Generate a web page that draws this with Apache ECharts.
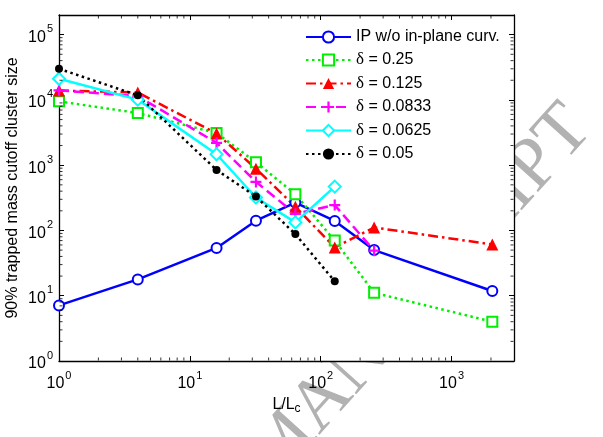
<!DOCTYPE html>
<html>
<head>
<meta charset="utf-8">
<script src="https://cdn.jsdelivr.net/npm/echarts@6/dist/echarts.min.js"></script>
<style>
html, body {margin: 0; padding: 0; background: #fff;}
#chart {width: 603px; height: 437px;}
</style>
</head>
<body>
<div id="chart"></div>
<script>
// L/Lc values (same for every curve)
var xVals = [1, 4, 16, 32, 64, 128, 256, 2048];
// 90% trapped mass cutoff cluster size
var ipCurv = [7.1, 17.8, 54, 141, 268, 140, 50, 11.8];
var d025 = [9500, 6300, 3100, 1110, 360, 70, 11.1, 4.0];
var d0125 = [13900, 13000, 3060, 885, 231, 55, 111, 61];
var d00833 = [14000, 11400, 2200, 555, 180, 245, 49];
var d00625 = [21100, 10100, 1470, 320, 133, 470];
var d005 = [30000, 11750, 845, 331, 88, 16.6];
var seriesNames = ['IP w/o in-plane curv.', 'δ = 0.25', 'δ = 0.125', 'δ = 0.0833', 'δ = 0.0625', 'δ = 0.05'];
var xMin = 1, xMax = 3000, yMin = 1, yMax = 200000;

var font = 'Liberation Sans, Arial, sans-serif';

// pair x with y
function pairs(ys) {
	var out = [];
	for (var i = 0; i < ys.length; i++) {
		out.push([xVals[i], ys[i]]);
	}
	return out;
}

// 2..9 x 10^k between lo and hi
function minorTicks(lo, hi) {
	var arr = [];
	for (var p = lo; p < hi; p *= 10) {
		for (var m = 2; m < 10; m++) {
			if (m * p < hi) arr.push(m * p);
		}
	}
	return arr;
}

// "10" with exponent, only on decades
function powLabel(v) {
	var e = Math.log(v) / Math.LN10;
	var r = Math.round(e);
	if (Math.abs(e - r) > 1e-6) return '';
	return '{b|10}{s|' + r + '}';
}

var labelRich = {
	b: {fontSize: 16, fontFamily: font, color: '#000', lineHeight: 22, verticalAlign: 'bottom'},
	s: {fontSize: 11, fontFamily: font, color: '#000', verticalAlign: 'top', padding: [0, 0, 0, 1]}
};

function logAxis(pos, mn, mx, show, margin) {
	return {
		type: 'log', logBase: 10, position: pos, min: mn, max: mx,
		axisLine: {show: true, onZero: false, lineStyle: {color: '#000', width: 1.3}},
		axisTick: {show: true, inside: true, length: 5, lineStyle: {color: '#000', width: 1}},
		axisLabel: {show: show, formatter: powLabel, rich: labelRich, margin: margin},
		splitLine: {show: false}
	};
}

var xAxisBottom = logAxis('bottom', xMin, xMax, true, 9);
xAxisBottom.name = '{m|L/L}{c|c}';
xAxisBottom.nameLocation = 'middle';
xAxisBottom.nameGap = 34;
xAxisBottom.nameMoveOverlap = false;
xAxisBottom.nameTextStyle = {rich: {
	m: {fontSize: 16, fontFamily: font, color: '#000'},
	c: {fontSize: 12, fontFamily: font, color: '#000', verticalAlign: 'bottom', padding: [8, 0, 0, 0]}
}};
var yAxisLeft = logAxis('left', yMin, yMax, true, 6);
yAxisLeft.name = '90% trapped mass cutoff cluster size';
yAxisLeft.nameLocation = 'middle';
yAxisLeft.nameGap = 38;
yAxisLeft.nameMoveOverlap = false;
yAxisLeft.nameTextStyle = {fontSize: 16, fontFamily: font, color: '#000'};

var xMinor = minorTicks(xMin, xMax);
var yMinor = minorTicks(yMin, yMax);

// small inward minor ticks drawn as scatter marks on the frame
function tickSeries(data, size, offset) {
	return {
		type: 'scatter', silent: true, clip: false, z: 5, data: data,
		symbol: 'rect', symbolSize: size, symbolOffset: offset,
		itemStyle: {color: '#000'}
	};
}

var option = {
	backgroundColor: '#fff',
	animation: false,
	graphic: [{
		type: 'text', x: 288, y: 496, rotation: 48 * Math.PI / 180, z: -10,
		style: {text: 'MANUSCRIPT', font: '74px "Liberation Serif", serif', fill: '#b2b2b2', align: 'left', verticalAlign: 'bottom'}
	}],
	grid: {left: 59, right: 89, top: 15, bottom: 76, outerBoundsMode: 'none', containLabel: false,
		show: true, backgroundColor: '#fff', borderWidth: 0},
	legend: {
		data: seriesNames, orient: 'vertical', left: 300, top: 24,
		itemWidth: 45, itemHeight: 14, itemGap: 6.5,
		formatter: function (name) {
			if (name.charAt(0) == 'δ') return '{d|δ}{t|' + name.substring(1) + '}';
			return '{t|' + name + '}';
		},
		textStyle: {lineHeight: 16, rich: {
			d: {fontSize: 17, fontFamily: '"Liberation Serif", serif', color: '#000'},
			t: {fontSize: 16, fontFamily: font, color: '#000'}
		}}
	},
	xAxis: [xAxisBottom, logAxis('top', xMin, xMax, false, 8)],
	yAxis: [yAxisLeft, logAxis('right', yMin, yMax, false, 8)],
	series: [
		{name: seriesNames[0], type: 'line', data: pairs(ipCurv), symbol: 'emptyCircle', symbolSize: 10,
			lineStyle: {color: '#0000ff', width: 2.5}, itemStyle: {color: '#0000ff', borderWidth: 2}},
		{name: seriesNames[1], type: 'line', data: pairs(d025), symbol: 'emptyRect', symbolSize: 10,
			lineStyle: {color: '#00ee00', width: 2.5, type: [2.5, 3.5]}, itemStyle: {color: '#00ee00', borderWidth: 2}},
		{name: seriesNames[2], type: 'line', data: pairs(d0125), symbol: 'triangle', symbolSize: 12,
			lineStyle: {color: '#ff0000', width: 2.5, type: [10, 4, 2.5, 4]}, itemStyle: {color: '#ff0000'}},
		{name: seriesNames[3], type: 'line', data: pairs(d00833), symbol: 'path://M4,0H6V4H10V6H6V10H4V6H0V4H4Z', symbolSize: 11,
			lineStyle: {color: '#ff00ff', width: 2.5, type: [10, 5]}, itemStyle: {color: '#ff00ff'}},
		{name: seriesNames[4], type: 'line', data: pairs(d00625), symbol: 'emptyDiamond', symbolSize: 12,
			lineStyle: {color: '#00ffff', width: 2.5}, itemStyle: {color: '#00ffff', borderWidth: 2}},
		{name: seriesNames[5], type: 'line', data: pairs(d005), symbol: 'circle', symbolSize: 8,
			lineStyle: {color: '#000', width: 2.5, type: [2.5, 3.5]}, itemStyle: {color: '#000'}},
		tickSeries(xMinor.map(function (v) { return [v, yMin]; }), [1, 3], [0, -2]),
		tickSeries(xMinor.map(function (v) { return [v, yMax]; }), [1, 3], [0, 2]),
		tickSeries(yMinor.map(function (v) { return [xMin, v]; }), [3, 1], [2, 0]),
		tickSeries(yMinor.map(function (v) { return [xMax, v]; }), [3, 1], [-2, 0])
	]
};

var myChart = echarts.init(document.getElementById('chart'));
myChart.setOption(option);
</script>
</body>
</html>
